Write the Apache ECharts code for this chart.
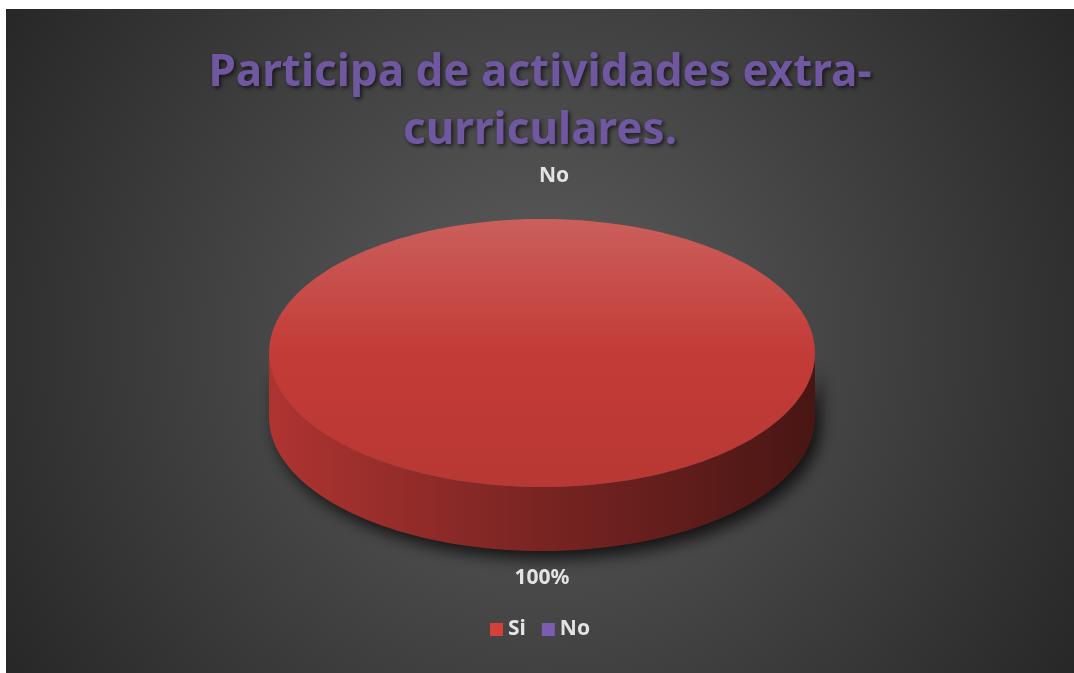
<!DOCTYPE html>
<html>
<head>
<meta charset="utf-8">
<script src="https://cdn.jsdelivr.net/npm/echarts@6/dist/echarts.min.js"></script>
<style>
html, body { margin: 0; padding: 0; background: #fff; }
#chart { position: absolute; left: 6px; top: 9px; width: 1068px; height: 664px; }
</style>
</head>
<body>
<div id="chart"></div>
<script>
// datos del grafico
const titulo = 'Participa de actividades extra-\ncurriculares.'
const categorias = ['Si', 'No']
const valores = [100, 0]
const colores = ['#d4403c', '#7c5cb0']

const total = valores.reduce((a, b) => a + b, 0)

// geometria de la torta 3D (elipse vista en perspectiva)
const CX = 536, CY = 344, RX = 273, RY = 134, DEPTH = 64

function mezclar(c, otro, t) {
  const a = echarts.color.parse(c), b = echarts.color.parse(otro)
  return 'rgb(' + [0, 1, 2].map(i => Math.round(a[i] * (1 - t) + b[i] * t)).join(',') + ')'
}

function pt(ang, dy) {
  const r = ang * Math.PI / 180
  return [CX + RX * Math.sin(r), CY - RY * Math.cos(r) + (dy || 0)]
}

function arco(a0, a1, dy) {
  const pts = []
  const n = Math.max(2, Math.ceil((a1 - a0) / 2))
  for (let i = 0; i <= n; i++) pts.push(pt(a0 + (a1 - a0) * i / n, dy))
  return pts
}

// angulos de cada rebanada, empezando arriba y en sentido horario
function rebanada(idx) {
  let inicio = 0
  for (let i = 0; i < idx; i++) inicio += valores[i]
  return [inicio / total * 360, (inicio + valores[idx]) / total * 360]
}

function renderItem(params, api) {
  const idx = params.seriesIndex
  const base = colores[idx]
  const [a0, a1] = rebanada(idx)
  const children = []
  if (a1 > a0) {
    // lateral, solo la parte de adelante
    const f0 = Math.max(a0, 90), f1 = Math.min(a1, 270)
    if (f1 > f0) {
      const arriba = arco(f0, f1, 0)
      const abajo = arco(f0, f1, DEPTH).reverse()
      children.push({
        type: 'polygon',
        shape: { points: arriba.concat(abajo) },
        style: {
          fill: new echarts.graphic.LinearGradient(0, 0, 1, 0, [
            { offset: 0, color: mezclar(base, '#000', 0.18) },
            { offset: 0.5, color: mezclar(base, '#000', 0.43) },
            { offset: 1, color: mezclar(base, '#000', 0.66) }
          ]),
          shadowBlur: 16,
          shadowColor: 'rgba(0,0,0,0.75)',
          shadowOffsetX: 6,
          shadowOffsetY: 8
        }
      })
    }
    // cara de arriba
    let pts = arco(a0, a1, 0)
    if (a1 - a0 < 360) pts = [[CX, CY]].concat(pts)
    children.push({
      type: 'polygon',
      shape: { points: pts },
      style: {
        fill: new echarts.graphic.LinearGradient(0, 0, 0, 1, [
          { offset: 0, color: mezclar(base, '#b4b4b4', 0.27) },
          { offset: 0.5, color: mezclar(base, '#000', 0.08) },
          { offset: 1, color: mezclar(base, '#000', 0.13) }
        ])
      }
    })
  }
  // etiqueta: porcentaje, o el nombre si no tiene valor
  const mid = (a0 + a1) / 2
  const pct = Math.round(valores[idx] / total * 100)
  const texto = valores[idx] > 0 ? pct + '%' : categorias[idx]
  const enFrente = Math.cos(mid * Math.PI / 180) < 0
  const r = mid * Math.PI / 180
  const lx = CX + (RX + 30) * Math.sin(r) + (enFrente ? 0 : 12)
  const ly = enFrente ? CY + RY + DEPTH + 27 : CY - RY - 43
  children.push({
    type: 'text',
    style: {
      text: texto,
      x: lx,
      y: ly,
      fill: '#e4e4e4',
      font: 'bold 21px "Noto Sans"',
      align: 'center',
      verticalAlign: 'middle'
    }
  })
  return { type: 'group', children: children }
}

let chart = echarts.init(document.getElementById('chart'))
let option = {
  backgroundColor: {
    type: 'radial', x: 0.5, y: 0.5, r: 0.95,
    colorStops: [
      { offset: 0, color: '#5e5e5e' },
      { offset: 1, color: '#272727' }
    ]
  },
  color: colores,
  title: {
    text: titulo,
    left: 'center',
    top: 30,
    textStyle: {
      color: '#6f58a0',
      fontFamily: 'Noto Sans',
      fontWeight: 'bold',
      fontSize: 44,
      lineHeight: 58,
      textShadowColor: 'rgba(0,0,0,0.65)',
      textShadowBlur: 4,
      textShadowOffsetX: 2,
      textShadowOffsetY: 2
    }
  },
  legend: {
    data: categorias,
    bottom: 28,
    left: 'center',
    icon: 'rect',
    itemWidth: 13,
    itemHeight: 13,
    itemGap: 16,
    textStyle: { color: '#e4e4e4', fontFamily: 'Noto Sans', fontWeight: 'bold', fontSize: 21 }
  },
  series: categorias.map((nombre, i) => ({
    type: 'custom',
    name: nombre,
    coordinateSystem: 'none',
    renderItem: renderItem,
    data: [[valores[i]]]
  }))
}
chart.setOption(option)
</script>
</body>
</html>
